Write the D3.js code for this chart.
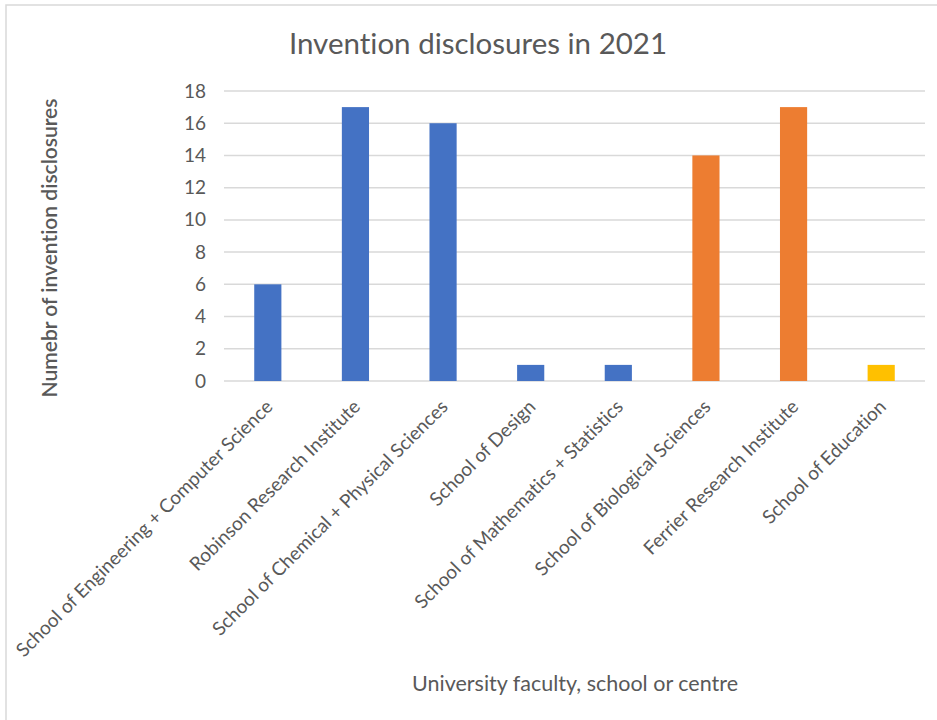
<!DOCTYPE html>
<html>
<head>
<meta charset="utf-8">
<script src="https://cdn.jsdelivr.net/npm/d3@7"></script>
<style>
  body { margin: 0; background: #fff; }
  text { font-family: Lato, "Open Sans", sans-serif; fill: #595959; font-variant-ligatures: none; }
</style>
</head>
<body>
<div id="chart"></div>
<script>
// data
const categories = [
  "School of Engineering + Computer Science",
  "Robinson Research Institute",
  "School of Chemical + Physical Sciences",
  "School of Design",
  "School of Mathematics + Statistics",
  "School of Biological Sciences",
  "Ferrier Research Institute",
  "School of Education"
];
const values = [6, 17, 16, 1, 1, 14, 17, 1];
const groups = [0, 0, 0, 0, 0, 1, 1, 2];   // colour group of each bar
const groupColors = ["#4472C4", "#ED7D31", "#FFC000"];
const yTicks = [0, 2, 4, 6, 8, 10, 12, 14, 16, 18];

const W = 937, H = 720;
const MARGIN = {top: 91, right: 12, bottom: 339, left: 224};

const svg = d3.select("#chart")
  .append("svg")
    .attr("width", W)
    .attr("height", H);

// chart area border
svg.append("rect")
  .attr("x", 6).attr("y", 5)
  .attr("width", W + 10).attr("height", H + 10)
  .attr("fill", "none")
  .attr("stroke", "#d9d9d9")
  .attr("stroke-width", 1.5);

const g = svg.append("g")
  .attr("transform", `translate(${MARGIN.left},${MARGIN.top})`);

const innerW = W - MARGIN.left - MARGIN.right;
const innerH = H - MARGIN.top - MARGIN.bottom;

const x = d3.scaleBand()
  .domain(categories)
  .range([0, innerW])
  .paddingInner(0.69)
  .paddingOuter(0.345);

const y = d3.scaleLinear()
  .domain([0, 18])
  .range([innerH, 0]);

// gridlines
g.append("g")
  .selectAll("line")
  .data(yTicks)
  .join("line")
    .attr("x1", 0)
    .attr("x2", innerW)
    .attr("y1", d => y(d))
    .attr("y2", d => y(d))
    .attr("stroke", "#d9d9d9")
    .attr("stroke-width", 1.5);

// y axis labels
const yAxis = d3.axisLeft(y).tickValues(yTicks).tickSize(0).tickPadding(18);
g.append("g")
  .call(yAxis)
  .call(a => a.select(".domain").remove())
  .selectAll("text")
    .attr("font-size", 19)
    .style("font-family", "Lato, 'Open Sans', sans-serif")
    .attr("fill", "#595959");

// bars
g.selectAll(".bar")
  .data(values)
  .join("rect")
    .attr("class", "bar")
    .attr("x", (d, i) => x(categories[i]))
    .attr("width", x.bandwidth())
    .attr("y", d => y(d))
    .attr("height", d => y(0) - y(d))
    .attr("fill", (d, i) => groupColors[groups[i]]);

// x axis labels, rotated
const xAxis = d3.axisBottom(x).tickSize(0).tickPadding(0);
g.append("g")
  .attr("transform", `translate(0,${innerH})`)
  .call(xAxis)
  .call(a => a.select(".domain").remove())
  .selectAll("text")
    .attr("font-size", 19)
    .style("font-family", "Lato, 'Open Sans', sans-serif")
    .attr("fill", "#595959")
    .attr("text-anchor", "end")
    .attr("dy", 0)
    .attr("transform", "translate(6,27) rotate(-45)");

// title
svg.append("text")
  .attr("x", 478)
  .attr("y", 54)
  .attr("text-anchor", "middle")
  .attr("font-size", 29.5)
  .text("Invention disclosures in 2021");

// axis titles
svg.append("text")
  .attr("transform", "translate(57,248) rotate(-90)")
  .attr("text-anchor", "middle")
  .attr("font-size", 21)
  .attr("font-weight", 600)
  .text("Numebr of invention disclosures");

svg.append("text")
  .attr("x", 575)
  .attr("y", 691)
  .attr("text-anchor", "middle")
  .attr("font-size", 21.5)
  .text("University faculty, school or centre");
</script>
</body>
</html>
